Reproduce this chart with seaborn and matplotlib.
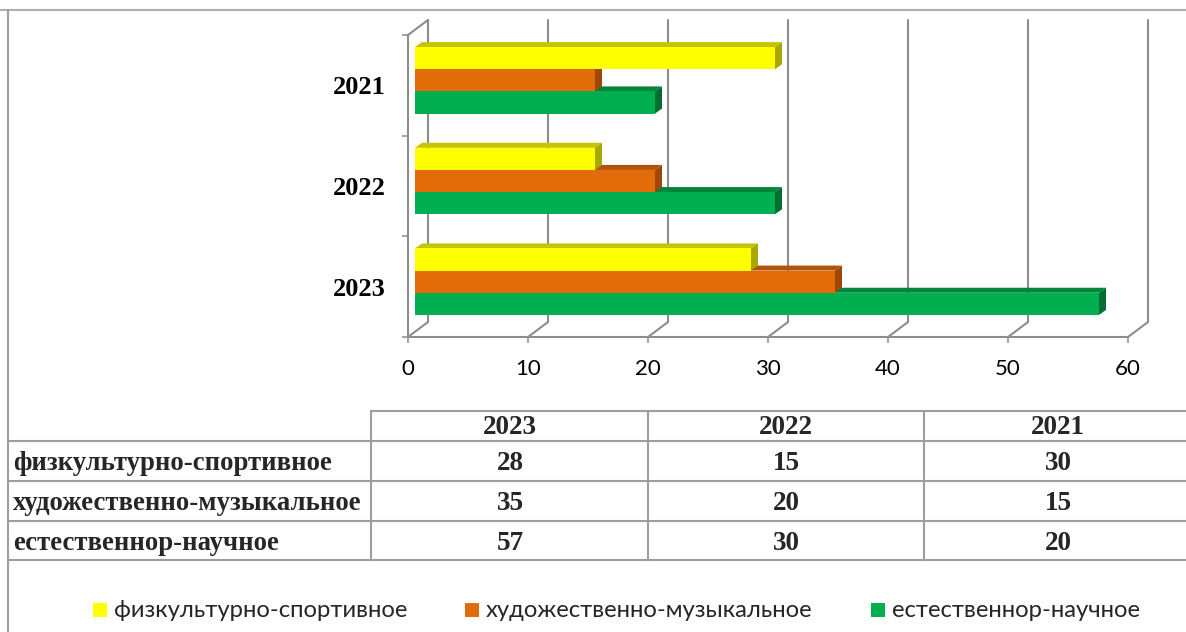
import matplotlib
matplotlib.use("Agg")
import matplotlib.pyplot as plt
import pandas as pd
import seaborn as sns
from matplotlib.lines import Line2D
from matplotlib.patches import Polygon, Rectangle
from matplotlib.transforms import ScaledTranslation

# ---- data ----
YEARS = ["2021", "2022", "2023"]           # chart order, top to bottom
TABLE_YEARS = ["2023", "2022", "2021"]     # table column order
SERIES = ["физкультурно-спортивное", "художественно-музыкальное", "естественнор-научное"]
sport = [30, 15, 28]      # 2021, 2022, 2023
music = [15, 20, 35]
science = [20, 30, 57]

FRONT = ["#FFFF00", "#E36C0A", "#00B050"]
TOP = ["#C4C400", "#B35308", "#00853A"]
SIDE = ["#A8A800", "#A04606", "#006E30"]
GRID = "#8C8C8C"
TABLE_LINE = "#9E9E9E"

W, H, DPI = 1186, 632, 100
SANS = ["Lato", "DejaVu Sans"]
SERIF = ["Liberation Serif", "DejaVu Serif"]


def fx(px):
    return px / W


def fy(py):
    return 1 - py / H


def main():
    df = pd.DataFrame({
        "year": YEARS * 3,
        "series": [SERIES[0]] * 3 + [SERIES[1]] * 3 + [SERIES[2]] * 3,
        "value": sport + music + science,
    })

    sns.set_theme(style="white")
    fig = plt.figure(figsize=(W / DPI, H / DPI), dpi=DPI)
    ax = fig.add_axes([fx(408), fy(337), fx(1128) - fx(408), fy(35) - fy(337)])

    sns.barplot(data=df, y="year", x="value", hue="series", order=YEARS,
                hue_order=SERIES, palette=FRONT, width=0.66, orient="h",
                saturation=1, linewidth=0, legend=False, ax=ax)
    ax.set_xlim(0, 60)
    ax.set_ylim(2.5, -0.5)

    # data units per pixel
    p0 = ax.transData.transform((0, 0))
    p1 = ax.transData.transform((1, 1))
    ux = 1 / abs(p1[0] - p0[0])
    uy = 1 / abs(p1[1] - p0[1])

    # back wall, grid and floor (depth 20px right, 15px up)
    bdx, bdy = 20 * ux, 15 * uy
    for v in range(0, 61, 10):
        ax.add_line(Line2D([v + bdx, v + bdx], [-0.5 - bdy, 2.5 - bdy], color=GRID,
                           lw=1.5, zorder=1, clip_on=False))
        ax.add_line(Line2D([v, v + bdx], [2.5, 2.5 - bdy], color=GRID,
                           lw=1.5, zorder=1, clip_on=False))
    ax.add_line(Line2D([0, bdx], [-0.5, -0.5 - bdy], color=GRID, lw=1.5,
                       zorder=1, clip_on=False))

    # 3D bars: shift front faces into the box and add top / side faces
    shift = ScaledTranslation(7 / DPI, 5 / DPI, fig.dpi_scale_trans)
    ddx, ddy = 7 * ux, 5 * uy
    for i, cont in enumerate(ax.containers):
        z = 5 - i
        for bar in cont:
            x0, y0 = bar.get_x(), bar.get_y()
            x1, y1 = x0 + bar.get_width(), y0 + bar.get_height()
            bar.set_transform(ax.transData + shift)
            bar.set_zorder(z)
            bar.set_clip_on(False)
            top = Polygon([(x0, y0), (x1, y0), (x1 + ddx, y0 - ddy), (x0 + ddx, y0 - ddy)],
                          closed=True, facecolor=TOP[i], edgecolor="none",
                          zorder=z - 0.5, clip_on=False,
                          transform=ax.transData + shift)
            side = Polygon([(x1, y0), (x1, y1), (x1 + ddx, y1 - ddy), (x1 + ddx, y0 - ddy)],
                           closed=True, facecolor=SIDE[i], edgecolor="none",
                           zorder=z - 0.5, clip_on=False,
                           transform=ax.transData + shift)
            ax.add_patch(top)
            ax.add_patch(side)

    for s in ["top", "right"]:
        ax.spines[s].set_visible(False)
    for s in ["left", "bottom"]:
        ax.spines[s].set_color(GRID)
        ax.spines[s].set_linewidth(1.5)
        ax.spines[s].set_zorder(1)

    ax.set_xticks(range(0, 61, 10))
    ax.tick_params(axis="x", direction="out", length=4.5, width=1.1, color=GRID,
                   pad=11, labelsize=16, labelcolor="black", bottom=True)
    for lab in ax.get_xticklabels():
        lab.set_family(SANS)
    ax.set_yticks([0, 1, 2])
    ax.set_yticklabels(YEARS)
    ax.set_yticks([-0.5, 0.5, 1.5, 2.5], minor=True)
    ax.tick_params(axis="y", which="major", length=0, pad=16)
    ax.tick_params(axis="y", which="minor", direction="out", length=4.5, width=1.1,
                   color=GRID, left=True)
    for lab in ax.get_yticklabels():
        lab.set_family(SERIF)
        lab.set_fontweight("bold")
        lab.set_fontsize(19)
        lab.set_color("black")
    ax.set_xlabel("")
    ax.set_ylabel("")
    ax.grid(False)

    # outer frame
    def hline(y, xa, xb, c=TABLE_LINE):
        fig.add_artist(Line2D([fx(xa), fx(xb)], [fy(y), fy(y)], color=c, lw=1.5))

    def vline(x, ya, yb, c=TABLE_LINE):
        fig.add_artist(Line2D([fx(x), fx(x)], [fy(ya), fy(yb)], color=c, lw=1.5))

    hline(10, 0, W, "#B0B0B0")
    vline(8, 10, H, "#A0A0A0")

    # data table
    hline(411, 371, W)
    for y in [441, 481, 521, 560]:
        hline(y, 8, W)
    for x in [371, 648, 924]:
        vline(x, 411, 560)

    col_centers = [510, 786, 1058]
    row_centers = [464, 503, 543]
    by_year = {s: dict(zip(YEARS, vals)) for s, vals in zip(SERIES, [sport, music, science])}
    for cx, yr in zip(col_centers, TABLE_YEARS):
        fig.text(fx(cx), fy(428), yr, ha="center", va="center", family=SERIF,
                 fontweight="bold", fontsize=19.5)
    for cy, s in zip(row_centers, SERIES):
        fig.text(fx(13), fy(cy), s, ha="left", va="center", family=SERIF,
                 fontweight="bold", fontsize=19.3)
        for cx, yr in zip(col_centers, TABLE_YEARS):
            fig.text(fx(cx), fy(cy), str(by_year[s][yr]), ha="center", va="center",
                     family=SERIF, fontweight="bold", fontsize=19.5)

    # legend
    for lx, s, c in zip([93, 465, 871], SERIES, FRONT):
        fig.add_artist(Rectangle((fx(lx), fy(617)), fx(14), 14 / H, facecolor=c,
                                 edgecolor="none", transform=fig.transFigure))
        fig.text(fx(lx + 21), fy(617), s, ha="left", va="baseline", family=SANS,
                 fontsize=17.2)

    fig.savefig("out.png", dpi=DPI)
    plt.close(fig)


if __name__ == "__main__":
    main()
